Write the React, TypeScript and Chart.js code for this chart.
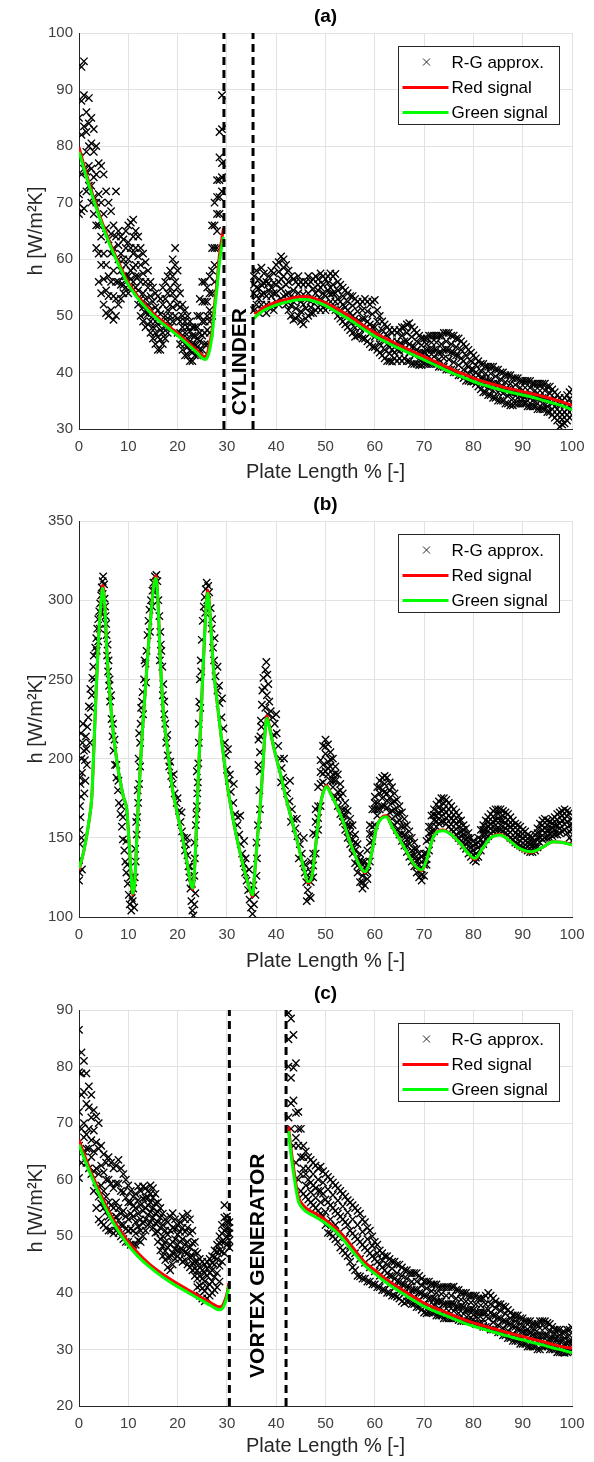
import React, { useEffect, useRef } from "react";
import { Chart, registerables } from "chart.js";

Chart.register(...registerables);

const FONT = "'Liberation Sans', Arial, Helvetica, sans-serif";

const X_TICKS = [0, 10, 20, 30, 40, 50, 60, 70, 80, 90, 100];
const X_TITLE = "Plate Length % [-]";
const Y_TITLE = "h [W/m\u00B2K]";
const LEGEND_LABELS = ["R-G approx.", "Red signal", "Green signal"];

// ---------------- Panel (a) ----------------
const A_Y_TICKS = [30, 40, 50, 60, 70, 80, 90, 100];
const A_WALLS = [29.4, 35.3];
const A_NOTE = { text: "CYLINDER", x: 32.7, y: 41.9 };

const A_SC1_X = [0,0.5,1,1.5,2,2.5,3,3.5,4,4.5,5,5.5,6,6.5,7,7.5,8,8.5,9,9.5,10,10.5,11,11.5,12,12.5,13,13.5,14,14.5,15,15.5,16,16.5,17,17.5,18,18.5,19,19.5,20,20.5,21,21.5,22,22.5,23,23.5,24,24.5,25,25.5,26,26.5,27,27.5,28,28.5,29];
const A_SC1_HI = [85,94,95,86,88.5,85,83,80,77,76.5,75,72,70,68.5,66,72,65,64,63.5,65,66,66.5,67,65,64,62,61,59.5,58,56,55,54,53.5,53,55,56,57,58,60,62,58,54,52,51,50,49,48,48,50,53,56,56,55,57,66,70,74,82.5,89];
const A_SC1_MID = [71.5,82,83.5,79,80,76,74.5,70,66,64,61,59,57,61,58,56,60,58,57,59,60,58,61,59,57,56,54,53,52,51,50,49,48.5,47.5,49,50,51,52,54,56,52,49,48,47,46,45.5,45,45,46,47,49,49,50,51,58,62,68,74,77];
const A_SC1_LO = [68,68.5,69,72,73,70,68,62,56,54,52,50.5,50,51,49.3,50,52,53,54,55,54,55,56,55,52,50,49,48,48.5,47,46,45,44,44,45,46,47,48,49,50,47,45,44,43,43,42,42,43,43,44,44,45,45,47,50,56,62,68,72];
const A_SC1_FILL = [78,75,89,75.5,84,73,79,66,71.5,59,68,54.5,63.5,56,62,53,62.5,55.5,60,57,63,56.5,64,57,60.5,53,57.5,50.5,55,49,52.5,47,51,45.8,52,48,54,50,57,53,55,47,50,45,48,43.8,46.5,44,48,45.5,52.5,47,52.5,49,62,59,71,71,83];
const A_SC1_EXTRA = [69.8,88,76,82.5,76.5,80.5,71,75,61,70,56.5,65.5,53.5,64.5,53.5,64,56,61,55.5,62,57,62,58.5,62,54.5,59,51.5,56,50.3,53.5,48,51.5,46.3,50.3,47,53,49,55,51.5,59,49.5,51.5,46,49,44.5,47.3,43.5,46.5,44.5,50,46.5,52.5,47.5,54,54,66,65,78,74.5];

const A_SC2_X = [35.5,36,36.5,37,37.5,38,38.5,39,39.5,40,40.5,41,41.5,42,42.5,43,43.5,44,44.5,45,45.5,46,46.5,47,47.5,48,48.5,49,49.5,50,50.5,51,51.5,52,52.5,53,53.5,54,54.5,55,55.5,56,56.5,57,57.5,58,58.5,59,59.5,60,60.5,61,61.5,62,62.5,63,63.5,64,64.5,65,65.5,66,66.5,67,67.5,68,68.5,69,69.5,70,70.5,71,71.5,72,72.5,73,73.5,74,74.5,75,75.5,76,76.5,77,77.5,78,78.5,79,79.5,80,80.5,81,81.5,82,82.5,83,83.5,84,84.5,85,85.5,86,86.5,87,87.5,88,88.5,89,89.5,90,90.5,91,91.5,92,92.5,93,93.5,94,94.5,95,95.5,96,96.5,97,97.5,98,98.5,99,99.5,100];
const A_SC2_HI = [57,58,56.5,58.5,57.5,56,57,58,57.5,59,59.5,60.5,60,59,58,57,56.5,56,57,56,55.5,56,57,56,56.5,57,56.5,57.5,57,56.5,57,57.5,57,57.4,56,55.5,55,54.5,54,53.5,53.5,53,52.5,52,52.5,53,52.5,52,52.5,52.8,51,50,49,48.5,48,47.5,47,47.5,47,47.5,48,48,48.5,48.7,48,47.5,47,46.5,46,46,46,46.5,46.5,46.5,46.5,46.5,46.5,47,47,47,46.5,46.5,46,46,45.5,45,44.5,44,43.5,43,42.5,42,41.5,41.5,41,41,41,41,40.5,40.5,40,40,39.5,39.5,39.5,39,39,39,38.5,38.5,38.5,38.5,38.5,38,38,38,38,38,38,37.5,37.5,37,36.5,36,35.5,35,35.5,36,36.5,37];
const A_SC2_MID = [54,55,53,55.5,54,53.5,54.5,55,54,55.5,56,56.5,57,55.5,54,53.5,52.5,53,54,52.5,52,53,54,52.5,53,54,54.5,55,54,53.5,54.5,55,54,54,53,52.5,52,51.5,51,50.5,50,49.5,49,49,49.5,49.5,49,48.5,48,48,47,46.5,46,45.5,45,44.5,44,44.5,44,45,45,45.5,45.5,45,44.5,44.5,44,43.5,43.5,43.5,44,44,44,44,44,43.5,43.5,44,44,44,43.5,43.5,43,43,42.5,42,41.5,41,40.5,40.5,40,39.5,39,39,38.5,38.5,38.5,38,38,38,37.5,37.5,37,37,36.5,36.5,36.5,36.5,36,36,36,36,36,36,35.5,35.5,35.5,35.5,35.5,35,35,34.5,34,33.5,33,32.5,33,33.5,34,34.5];
const A_SC2_LO = [51,52,50.5,52,51,50.5,51.5,52,51,52.5,52,53,53.5,52,51,50,49.3,49.5,50,49,48.5,49.5,50,50.5,50.5,51,51.5,51,51.5,51,52,52.5,51.5,51,50,49.5,49,48.5,48,47.5,47,46.3,46.5,46.5,46,46,45.5,45,44.5,44.5,44,43.5,43,42.5,42,42,41.9,42.5,42,42.5,42,42.5,42,42,41.5,41.5,41.5,41.3,41.3,41.5,41.5,41.5,41.5,41.5,41.5,41,41,41,40.5,40.5,40.5,40,40,39.5,39.5,39,38.5,38.5,38.4,38.4,38,37.5,37,36.5,36.5,36,36,35.5,35.5,35,35,35,34.5,34.5,34.2,34.2,34.5,34.5,34.5,34.5,34.5,34,34,34,34,33.5,33.5,33.5,33.5,33,33,32.5,32,31.5,30.4,30.8,31,31.5,32,32.5];
const A_SC2_FILL = [55.5,53.5,54.8,53.8,55.8,52,55.8,53.5,55.8,54,57.8,54.8,58.5,53.8,56,51.8,54.5,51.3,55.5,50.8,53.8,51.3,55.5,51.5,54.8,52.5,55.5,53,55.5,52.3,55.8,53.8,55.5,52.5,54.5,51,53.5,50,52.5,49,51.8,47.9,50.8,47.8,51,47.8,50.8,46.8,50.3,46.3,49,45,47.5,44,46.5,43.3,45.5,43.5,45.5,43.8,46.5,44,47,43.5,46.3,43,45.5,42.4,44.8,42.5,45,42.8,45.3,42.8,45.3,42.3,45,42.5,45.5,42.3,45,41.8,44.5,41.3,44,40.5,43,39.8,42,39.5,41.3,38.5,40.3,37.8,39.8,37.3,39.8,36.8,39.3,36.5,38.8,36.3,38.3,35.8,38,35.4,37.8,35.5,37.3,35.3,37.3,35,37.3,35,36.8,34.5,36.8,34.5,36.8,34,36.3,33.5,35.3,32.5,34.3,31.7,34.3,32.5,35.3,33.5];

const A_LINE1_X = [0,1,2,3,4,5,6,7,8,9,10,12,14,16,18,20,22,24,25,25.5,26,26.5,27,27.5,28,28.5,29,29.3];
const A_RED1 = [79.8,76.6,73.6,70.8,68.2,65.8,63.5,61.4,59.5,57.6,55.9,53.4,51.4,49.7,48.3,46.9,45.4,43.8,43.0,42.8,43.3,45.0,47.5,52.0,56.0,60.8,63.8,65.5];
const A_GREEN1 = [79.0,76.0,73.1,70.4,67.8,65.4,63.1,61.0,59.1,57.2,55.5,53.0,51.0,49.3,47.9,46.5,45.0,43.4,42.5,42.3,42.6,44.0,46.5,51.0,55.0,59.5,62.5,64.0];
const A_LINE2_X = [35.5,36,37,38,40,42,44,46,48,50,52,54,56,58,60,62,64,66,68,70,72,74,76,78,80,82,84,86,88,90,92,94,96,98,100];
const A_RED2 = [50.6,50.5,51.2,51.7,52.4,52.9,53.3,53.4,53.0,52.3,51.4,50.4,49.3,48.1,47.0,46.1,45.2,44.4,43.6,42.8,42.0,41.2,40.4,39.7,39.0,38.4,37.9,37.4,37.0,36.6,36.2,35.8,35.3,34.8,34.2];
const A_GREEN2 = [49.5,50.0,50.7,51.2,51.9,52.4,52.8,52.9,52.5,51.8,50.8,49.8,48.7,47.5,46.4,45.5,44.6,43.8,43.0,42.2,41.4,40.6,39.8,39.1,38.4,37.8,37.3,36.8,36.4,36.0,35.6,35.1,34.6,34.1,33.4];

// ---------------- Panel (b) ----------------
const B_Y_TICKS = [100, 150, 200, 250, 300, 350];

const B_SC_W1 = [[0,123],[0.1,128],[0,136],[0.2,146],[0.1,155],[0.3,163],[0.2,170],[0.4,176],[0.3,184],[0.6,191],[0.5,200],[0.7,210],[0.4,216],[0.8,222],[1.1,178],[1.3,186],[1.2,199],[1.5,206],[1.4,214],[1.7,220],[1.9,226],[2.2,210],[2.4,232],[2.6,240],[2.7,251],[2.9,258],[3.0,265],[3.3,270],[3.5,276],[3.7,282],[3.9,288],[4.1,293],[4.3,298],[4.5,303],[4.6,308],[4.8,312],[4.9,315],[5.1,310],[4.8,304],[5.2,301],[4.4,292],[3.6,268],[2.3,244],[1.0,205],[0.5,150],[0.2,188],[5.4,290],[5.6,278],[5.7,265],[5.9,255],[6.1,246],[6.3,236],[6.6,225],[6.8,214],[7.0,205],[7.3,196],[7.6,188],[7.9,180],[8.1,172],[8.4,165],[8.7,157],[8.9,149],[9.2,142],[9.4,135],[9.6,128],[9.9,121],[10.1,114],[10.3,108],[10.6,104],[10.9,110],[11.2,106],[11.0,118],[10.4,125],[9.8,133],[8.6,170],[7.6,196],[6.9,222],[6.2,250],[5.8,272],[5.5,285],[5.3,296]];
const B_SC_W2 = [[11.3,125],[11.5,135],[11.4,143],[11.7,152],[11.8,163],[12.0,172],[12.2,184],[12.4,195],[12.4,210],[12.5,222],[12.6,232],[12.9,242],[13.2,250],[13.5,260],[13.7,268],[13.9,278],[14.1,287],[14.3,294],[14.6,300],[14.9,306],[15.1,311],[15.4,315],[15.7,316],[15.9,312],[15.3,306],[14.8,296],[13.3,262],[12.8,236],[12.1,200],[11.6,160],[16.1,300],[16.3,290],[16.5,280],[16.7,268],[16.9,258],[17.1,247],[17.3,236],[17.5,222],[17.7,210],[18.0,202],[18.3,195],[18.7,189],[19.0,184],[19.4,178],[19.8,172],[20.3,167],[20.6,160],[20.9,154],[21.3,150],[21.7,146],[22.0,139],[22.2,132],[22.4,125],[22.6,118],[22.8,110],[23.0,104],[23.2,101],[23.4,108],[23.6,115],[22.9,121],[21.5,142],[20.0,175],[18.5,198],[17.3,228],[16.6,272]];
const B_SC_W3 = [[23.4,126],[23.5,137],[23.4,147],[23.7,158],[23.9,170],[24.1,185],[24.2,197],[24.3,210],[24.3,222],[24.4,236],[24.5,250],[24.7,262],[24.9,275],[25.1,287],[25.3,296],[25.5,302],[25.7,307],[25.9,311],[26.2,309],[26.4,305],[26.0,300],[25.6,292],[24.8,255],[24.0,178],[26.7,295],[26.9,282],[27.2,270],[27.4,262],[27.7,252],[28.1,243],[28.5,235],[28.9,226],[29.3,219],[29.6,210],[29.8,202],[30.0,193],[30.4,186],[30.8,179],[31.3,172],[31.7,165],[32.1,158],[32.5,152],[32.8,146],[33.1,140],[33.4,134],[33.7,128],[34.0,123],[34.3,117],[34.6,111],[34.9,106],[35.2,102],[35.5,108],[35.8,114],[35.4,120],[34.8,118],[33.8,137],[32.2,163],[30.6,190],[28.4,246],[27.0,288]];
const B_SC_W4 = [[36.0,126],[36.1,137],[36.0,147],[36.3,158],[36.7,168],[36.6,180],[36.7,192],[36.7,204],[36.8,214],[36.9,224],[37.1,234],[37.2,243],[37.4,251],[37.6,245],[37.8,256],[38.0,261],[38.2,253],[38.4,247],[38.1,240],[38.6,236],[37.8,232],[38.3,228],[38.9,230],[39.3,226],[39.7,222],[40.1,216],[40.4,208],[40.8,200],[41.1,194],[41.4,188],[41.8,183],[42.2,178],[42.7,173],[43.2,168],[43.5,162],[43.9,156],[44.3,151],[44.8,146],[45.2,140],[45.5,134],[45.8,128],[46.1,122],[46.4,117],[46.7,113],[46.2,110],[45.9,133],[44.6,137],[43.0,160],[41.0,185],[39.5,215]];
const B_SC_EXTRA = [[0.6,130],[1.6,196],[2.0,233],[3.1,250],[3.9,274],[4.2,282],[6.0,262],[6.5,240],[7.2,212],[8.0,186],[8.9,163],[9.6,148],[10.7,112],[11.9,180],[12.2,216],[13.0,228],[13.6,248],[14.4,280],[16.4,262],[17.0,240],[17.9,215],[19.2,190],[20.8,166],[21.9,150],[22.5,132],[23.8,165],[23.9,192],[24.6,232],[27.5,276],[28.1,258],[29.0,238],[30.2,206],[31.4,184],[32.7,164],[33.5,148],[34.5,130],[36.4,196],[36.4,212],[37.0,220],[40.0,228],[41.6,200],[42.8,186],[44.2,162],[45.6,150],[46.8,125]];

const B_SC2_X = [47,47.5,48,48.5,49,49.5,50,50.5,51,51.5,52,52.5,53,53.5,54,54.5,55,55.5,56,56.5,57,57.5,58,58.5,59,59.5,60,60.5,61,61.5,62,62.5,63,63.5,64,64.5,65,65.5,66,66.5,67,67.5,68,68.5,69,69.5,70,70.5,71,71.5,72,72.5,73,73.5,74,74.5,75,75.5,76,76.5,77,77.5,78,78.5,79,79.5,80,80.5,81,81.5,82,82.5,83,83.5,84,84.5,85,85.5,86,86.5,87,87.5,88,88.5,89,89.5,90,90.5,91,91.5,92,92.5,93,93.5,94,94.5,95,95.5,96,96.5,97,97.5,98,98.5,99,99.5,100];
const B_SC2_HI = [135,153,168,182,199,208,212,209,204,200,195,190,184,178,172,167,162,158,152,146,140,135,135,142,158,168,176,182,186,188,189,188,185,182,178,174,170,166,162,158,154,150,147,143,140,138,140,148,157,164,168,171,173,175,175,174,172,170,168,166,164,161,158,156,153,150,148,146,150,155,158,161,163,165,167,168,168,168,167,166,165,163,161,159,158,157,155,154,152,151,150,152,156,159,161,162,161,160,162,163,165,166,167,168,167,166,162];
const B_SC2_MID = [122,140,152,170,184,196,203,198,195,190,186,179,176,168,164,158,153,149,142,137,131,126,128,133,147,157,168,172,178,180,179,178,175,172,168,165,161,157,152,149,146,142,139,136,133,130,133,140,149,157,161,164,166,167,168,166,164,162,161,159,157,154,152,149,147,144,142,140,144,149,152,155,157,159,160,161,162,161,161,159,158,157,155,153,152,151,150,148,147,146,145,147,150,153,155,156,155,155,156,158,158,159,161,162,160,158,155];
const B_SC2_LO = [112,125,140,155,170,185,192,190,186,182,176,170,165,160,155,150,146,140,134,128,122,118,120,124,135,148,158,164,168,170,170,169,166,162,158,155,152,148,145,141,138,135,132,128,125,123,126,133,142,150,154,157,159,160,160,159,157,155,154,152,150,148,145,143,140,138,136,135,138,142,146,149,151,153,154,155,155,155,154,153,152,150,149,147,146,145,144,143,142,141,141,142,144,147,149,150,150,150,151,152,152,153,154,155,153,150,148];
const B_SC2_FILL = [128.5,132.5,160,162.5,191.5,190.5,207.5,194,199.5,186,190.5,174.5,180,164,168,154,157.5,144.5,147,132.5,135.5,122,131.5,128.5,152.5,152.5,172,168,182,175,184,173.5,180,167,173,160,165.5,152.5,157,145,150,138.5,143,132,136.5,126.5,136.5,136.5,153,153.5,164.5,160.5,169.5,163.5,171.5,162.5,168,158.5,164.5,155.5,160.5,151,155,146,150,141,145,137.5,147,145.5,155,152,160,156,163.5,158,165,158,164,156,161.5,153.5,158,150,155,148,152.5,145.5,149.5,143.5,147.5,144.5,153,150,158,153,158,152.5,159,155,161.5,156,164,158.5,163.5,154,158.5];

const B_LINE_X = [0,1,2,2.6,3,3.5,4,4.5,4.8,5.2,5.7,6.3,7,8,9,9.7,10.2,10.6,10.9,11.3,12,12.7,13.4,14,14.7,15.2,15.6,16,16.5,17.1,18,19,19.8,21,22,22.6,23.1,23.6,24.1,24.5,25,25.6,26.1,26.6,27.2,27.9,29,30,31.3,32.5,33.5,34.5,35.2,35.7,36.2,36.7,37.2,37.7,38.1,38.6,39.5,40.8,42,43.5,44.5,45.5,46.5,47.2,48,48.9,49.5,50.2,51,52,53.6,55,56,57,58,59,60.4,61.3,62.3,63.5,65.1,66.5,67.8,69.5,70.5,71.9,73.9,75.5,77.3,79,80.3,82,83.4,85.4,87,88.8,90.5,91.8,94,96.2,98,100];
const B_GREEN = [130.7,142,160,176,205,245,278,300,307.5,298,265,239,215,192,176,167.5,145,125,115,122,170,210,241,268,295,310,313.8,300,262,230,205,180,167.5,150,133,122,118.3,140,180,210,245,285,304.5,290,260,239,210,185,161,143,130,119,114,130,150,167.5,190,215,225.4,220,207,191,175,157,145,132,122.3,125,145,169.6,178,182.2,178,172,160,147,139,132,128.6,135,157,162,163.3,157,148.6,141,133.9,129.7,136,150.7,154.5,152,146.5,140,137,144,149.7,151.8,149,144.4,141.8,141.2,144,147.5,147,145.5];
const B_RED = [129.5,142,160,176,205,245,278,300.5,309.5,298.5,265,239,215,192,176,167.5,145,125,114,122,170,210,241,268,295.5,311,315.5,300.5,262,230,205,180,167.5,150,133,122,117.5,140,180,210,245,285.5,306.5,290.5,260,239,210,185,161,143,130,119,113,130,150,167.5,190,215,227,220.5,207,191,175,157,145,132,121.5,125,145,169.6,178.5,183,178.5,172,160,147,139,132,128,135,157,162.5,164,157,148.6,141,133.9,129.2,136,150.7,155,152,146.5,140,136.5,144,149.7,152.3,149,144.4,141.5,140.8,144,147.5,147.2,145.7];

// ---------------- Panel (c) ----------------
const C_Y_TICKS = [20, 30, 40, 50, 60, 70, 80, 90];
const C_WALLS = [30.5, 42.0];
const C_NOTE = { text: "VORTEX GENERATOR", x: 36.4, y: 44.8 };

const C_SC1_X = [0,0.5,1,1.5,2,2.5,3,3.5,4,4.5,5,5.5,6,6.5,7,7.5,8,8.5,9,9.5,10,10.5,11,11.5,12,12.5,13,13.5,14,14.5,15,15.5,16,16.5,17,17.5,18,18.5,19,19.5,20,20.5,21,21.5,22,22.5,23,23.5,24,24.5,25,25.5,26,26.5,27,27.5,28,28.5,29,29.5,30,30.5];
const C_SC1_HI = [86.5,82.5,81,78.8,76.5,75,72.3,71.2,70,66,64.5,63,64,63,62,62.5,63.5,62,61,60,59,58,57,57.5,58.8,58,58.8,58.5,58,59,58.5,57.5,56,55,54,53,52.5,53.5,54.1,53,52,52.5,53.5,53,54,53,51,49,47,46,45.5,45,45.5,46,46.5,47.5,48.5,50,52,55.5,53.5,52.5];
const C_SC1_MID = [72,75,70,68,69,67,65,62,61,59,58,57,56,55.5,55,56,55,54,54.5,53.5,53,54,53.5,52.5,54,53,54.5,55,55.5,56,55,54,52.5,51.5,50,49,48,48.5,49,49.5,48.5,49,49.5,48.5,49,48,46.5,45.5,44,43,42.5,42,43,43.5,44,45,46,47.5,49,51,51.5,50.5];
const C_SC1_LO = [60.3,63,65,63,62,61,58,55,53,52.5,52,51.5,51,51,50.5,51,50.6,50,49.5,49,49,48.5,48.5,48.5,49.3,49,50,51,52,52.5,51.5,50.6,49,47.5,46.5,45.8,44.5,44,45,46,46.5,46,45.5,45.8,45,44.5,44,43,41,39.5,39,38.5,39,39.5,40,40.5,41,42,45.5,47,48.5,48];
const C_SC1_FILL = [79,69,75.5,65.5,72.8,64,68.7,58.5,65.5,55.8,61.3,54.3,60,53.3,58.5,53.5,59.3,52,57.8,51.3,56,51.3,55.3,50.5,56.4,51,56.7,53,56.8,54.3,56.8,52.3,54.3,49.5,52,47.4,50.3,46.3,51.5,47.8,50.3,47.5,51.5,47.2,51.5,46.3,48.8,44.3,45.5,41.3,44,40.3,44.3,41.5,45.3,42.8,47.3,44.8,50.5,49,52.5,49.3];
const C_SC1_EXTRA = [66,78.8,67.5,73.4,65.5,71,61.5,66.6,57,62.5,55,60,53.5,59.3,52.8,59.3,52.8,58,52,56.8,51,56,51,55,51.7,55.5,52.3,56.8,53.8,57.5,53.3,55.8,50.8,53.3,48.3,51,46.3,51,47,51.3,47.5,50.8,47.5,50.8,47,50.5,45.3,47.3,42.5,44.5,40.8,43.5,41,44.8,42,46.3,43.5,48.8,47.3,53.3,50,51.5];

const C_SC2_X = [42.5,43,43.5,44,44.5,45,45.5,46,46.5,47,47.5,48,48.5,49,49.5,50,50.5,51,51.5,52,52.5,53,53.5,54,54.5,55,55.5,56,56.5,57,57.5,58,58.5,59,59.5,60,60.5,61,61.5,62,62.5,63,63.5,64,64.5,65,65.5,66,66.5,67,67.5,68,68.5,69,69.5,70,70.5,71,71.5,72,72.5,73,73.5,74,74.5,75,75.5,76,76.5,77,77.5,78,78.5,79,79.5,80,80.5,81,81.5,82,82.5,83,83.5,84,84.5,85,85.5,86,86.5,87,87.5,88,88.5,89,89.5,90,90.5,91,91.5,92,92.5,93,93.5,94,94.5,95,95.5,96,96.5,97,97.5,98,98.5,99,99.5,100];
const C_SC2_HI = [89.5,88.5,85.6,80.6,72,69,66,65,64,63.5,63,62.5,62,62.3,61.5,61,60.5,60,59.5,59,58.5,58,57.5,57,56.4,56,55.5,55,54.5,54,53,52.5,51.5,51,50,49,48.5,47.5,47,46.5,46.5,46,45.5,45.5,45,45,44.5,44,44,43.5,43.5,43.5,43.5,43,42.5,42,42,42,41.5,41.5,41.5,41,41,41,41,41,41,41.1,40.5,40.5,40,40,40,39.5,39.5,39.5,39.5,39,39,39,39.5,40,39.5,39,38.5,38,38,37.6,37.5,37,36.5,36,36,36,35.5,35.5,35,35,35,34.5,34.5,34.5,35,35,35,34.7,34.5,34,33.5,33.5,33.5,33,33,33.5,33.5,33.9];
const C_SC2_MID = [80,78,74,71.8,66,64,62,61,60,59.5,59,58.5,58,58,57.5,56.5,56,55.5,55,54.5,54,53.5,53,52.5,52,51,50.5,50,49.5,49,48.5,48,47.5,47,46.5,46,45.5,45,44.5,44,43.5,43,43,42.5,42,42,41.5,41.5,41,41,40.5,40.5,40.5,40,40,39.5,39.5,39,39,39,38.5,38.5,38.5,38,38,38,38,38,37.5,37.5,37.5,37.5,37,37,37,37,36.5,36.5,36.5,36.5,36.5,37,36.5,36,36,35.5,35.5,35,35,34.5,34.5,34,34,33.5,33.5,33,33,33,33,32.5,32.5,32.5,32.5,32.5,32.5,32.5,32,32,32,31.5,31.5,31.5,31,31,31.5,31.5];
const C_SC2_LO = [71,69,66,63,60,58,57.5,57,56.5,56,55.5,55,54.5,54,53.5,52,50.6,50.5,50,49.5,49,48,47.5,47,46.5,45.5,44.5,44,43,42.9,42.5,42.5,42,42,41.5,41.5,41,41,40.5,40.5,40,40,39.5,39.5,39.3,39,38.5,38.2,38.5,38.5,38,38,37.5,37.5,37,36.5,36.4,36.5,36.5,36.5,36,36,36,35.5,35.5,35.5,35.5,35.5,35.5,35.2,35,35,35,35,35,35.2,34.5,34.5,34.5,34,34,34,33.5,33.5,33.5,33,33,32.5,32.5,32,32,31.5,31.5,31.5,31,31,31,30.5,30.5,30.5,30.5,30,30,30.5,30.5,30.5,30,30,30,29.5,29.5,29.5,29.4,29.5,29.5,30];
const C_SC2_FILL = [84.8,73.5,79.8,67.4,69,61,64,59,62,57.8,61,56.8,60,56,59.5,54.3,58.3,53,57.3,52,56.3,50.8,55.3,49.8,54.2,48.3,53,47,52,46,50.8,45.3,49.5,44.5,48.3,43.8,47,43,45.8,42.3,45,41.5,44.3,41,43.5,40.5,43,39.9,42.5,39.8,42,39.3,42,38.8,41.3,38,40.8,37.8,40.3,37.8,40,37.3,39.8,36.8,39.5,36.8,39.5,36.8,39,36.4,38.8,36.3,38.5,36,38.3,36.1,38,35.5,37.8,35.3,38,35.5,38,34.8,37.3,34.3,36.8,33.8,36.3,33.3,35.5,32.8,35,32.5,34.5,32,34,31.8,34,31.5,33.5,31.3,33.8,31.5,33.8,31.5,33.3,31,32.8,30.5,32.5,30.5,32,30.3,32.5,30.8];

const C_LINE1_X = [0,1,2,3,4,5,6,7,8,9,10,12,14,16,18,20,22,24,26,27,28,28.6,29.2,29.7,30.1,30.4];
const C_RED1 = [67,64.6,62.3,60.2,58.2,56.3,54.5,52.9,51.5,50.2,49.0,47.0,45.3,43.9,42.7,41.6,40.6,39.6,38.6,38.1,37.6,37.5,37.9,38.9,40.2,41.7];
const C_GREEN1 = [66.2,63.9,61.7,59.6,57.6,55.7,53.9,52.3,50.9,49.6,48.4,46.4,44.8,43.4,42.2,41.1,40.1,39.1,38.1,37.6,37.1,37.0,37.4,38.4,39.7,41.2];
const C_LINE2_X = [42.5,43,43.5,44,44.5,45,46,48,50,52,54,56,58,60,62,64,66,68,70,72,74,76,78,80,82,84,86,88,90,92,94,96,98,100];
const C_RED2 = [69.4,65.5,62.3,59.3,57.0,56.0,55.0,54.0,52.9,51.5,49.7,47.5,45.4,44.0,42.6,41.4,40.3,39.2,38.2,37.4,36.7,36.0,35.3,34.7,34.2,33.7,33.2,32.7,32.3,31.8,31.4,30.9,30.5,30.2];
const C_GREEN2 = [68.6,64.5,61.3,58.4,56.2,55.3,54.4,53.4,52.3,50.9,49.0,46.8,44.8,43.4,42.0,40.8,39.7,38.6,37.6,36.8,36.1,35.4,34.7,34.1,33.6,33.1,32.6,32.1,31.7,31.2,30.8,30.3,29.9,29.4];

// ---------------- helpers ----------------
type Pt = { x: number; y: number };
const zip = (xs: number[], ys: number[]): Pt[] => {
  const n = Math.min(xs.length, ys.length);
  const out: Pt[] = [];
  for (let i = 0; i < n; i++) out.push({ x: xs[i], y: ys[i] });
  return out;
};
const pairs = (arr: number[][]): Pt[] => arr.map((p) => ({ x: p[0], y: p[1] }));

type Panel = {
  key: string;
  title: string;
  height: number;
  yMin: number;
  yMax: number;
  yTicks: number[];
  scatter: Pt[];
  red: Pt[][];
  green: Pt[][];
  walls: number[];
  note?: { text: string; x: number; y: number };
};

const PANELS: Panel[] = [
  {
    key: "a", title: "(a)", height: 488, yMin: 30, yMax: 100, yTicks: A_Y_TICKS,
    scatter: [
      ...zip(A_SC1_X, A_SC1_HI), ...zip(A_SC1_X, A_SC1_MID), ...zip(A_SC1_X, A_SC1_LO),
      ...zip(A_SC1_X, A_SC1_FILL), ...zip(A_SC1_X, A_SC1_EXTRA),
      ...zip(A_SC2_X, A_SC2_HI), ...zip(A_SC2_X, A_SC2_MID), ...zip(A_SC2_X, A_SC2_LO), ...zip(A_SC2_X, A_SC2_FILL),
    ],
    red: [zip(A_LINE1_X, A_RED1), zip(A_LINE2_X, A_RED2)],
    green: [zip(A_LINE1_X, A_GREEN1), zip(A_LINE2_X, A_GREEN2)],
    walls: A_WALLS, note: A_NOTE,
  },
  {
    key: "b", title: "(b)", height: 489, yMin: 100, yMax: 350, yTicks: B_Y_TICKS,
    scatter: [
      ...pairs(B_SC_W1), ...pairs(B_SC_W2), ...pairs(B_SC_W3), ...pairs(B_SC_W4), ...pairs(B_SC_EXTRA),
      ...zip(B_SC2_X, B_SC2_HI), ...zip(B_SC2_X, B_SC2_MID), ...zip(B_SC2_X, B_SC2_LO), ...zip(B_SC2_X, B_SC2_FILL),
    ],
    red: [zip(B_LINE_X, B_RED)],
    green: [zip(B_LINE_X, B_GREEN)],
    walls: [],
  },
  {
    key: "c", title: "(c)", height: 485, yMin: 20, yMax: 90, yTicks: C_Y_TICKS,
    scatter: [
      ...zip(C_SC1_X, C_SC1_HI), ...zip(C_SC1_X, C_SC1_MID), ...zip(C_SC1_X, C_SC1_LO),
      ...zip(C_SC1_X, C_SC1_FILL), ...zip(C_SC1_X, C_SC1_EXTRA),
      ...zip(C_SC2_X, C_SC2_HI), ...zip(C_SC2_X, C_SC2_MID), ...zip(C_SC2_X, C_SC2_LO), ...zip(C_SC2_X, C_SC2_FILL),
    ],
    red: [zip(C_LINE1_X, C_RED1), zip(C_LINE2_X, C_RED2)],
    green: [zip(C_LINE1_X, C_GREEN1), zip(C_LINE2_X, C_GREEN2)],
    walls: C_WALLS, note: C_NOTE,
  },
];

const PLOT_TOP = 33;
const PLOT_H = 396;
const Y_AXIS_W = 79;
const RIGHT_PAD = 22;

function makeDecor(p: Panel) {
  return {
    id: "decor_" + p.key,
    afterDatasetsDraw(chart: any) {
      if (!p.note) return;
      const { ctx, scales } = chart;
      const x = scales.x.getPixelForValue(p.note.x);
      const y = scales.y.getPixelForValue(p.note.y);
      ctx.save();
      ctx.translate(x, y);
      ctx.rotate(-Math.PI / 2);
      ctx.font = `bold 21px ${FONT}`;
      ctx.fillStyle = "#000";
      ctx.textAlign = "center";
      ctx.textBaseline = "middle";
      ctx.fillText(p.note.text, 0, 0);
      ctx.restore();
    },
    afterDraw(chart: any) {
      const { ctx, chartArea: ca } = chart;
      ctx.save();
      ctx.font = `bold 19px ${FONT}`;
      ctx.fillStyle = "#000";
      ctx.textAlign = "center";
      ctx.textBaseline = "middle";
      ctx.fillText(p.title, (ca.left + ca.right) / 2, ca.top - 16);

      const L = Math.round(ca.right - 174) + 0.5;
      const T = Math.round(ca.top + 13) + 0.5;
      const W = 161;
      const H = 78;
      ctx.fillStyle = "#fff";
      ctx.fillRect(L, T, W, H);
      ctx.strokeStyle = "#262626";
      ctx.lineWidth = 1;
      ctx.strokeRect(L, T, W, H);
      const rows = [T + 15.5, T + 41, T + 66];
      const mx = L + 28;
      const my = rows[0];
      ctx.beginPath();
      ctx.moveTo(mx - 3.5, my - 3.5);
      ctx.lineTo(mx + 3.5, my + 3.5);
      ctx.moveTo(mx + 3.5, my - 3.5);
      ctx.lineTo(mx - 3.5, my + 3.5);
      ctx.stroke();
      ctx.lineWidth = 3;
      ctx.strokeStyle = "#ff0000";
      ctx.beginPath();
      ctx.moveTo(L + 4, rows[1]);
      ctx.lineTo(L + 50, rows[1]);
      ctx.stroke();
      ctx.strokeStyle = "#00ff00";
      ctx.beginPath();
      ctx.moveTo(L + 4, rows[2]);
      ctx.lineTo(L + 50, rows[2]);
      ctx.stroke();
      ctx.font = `17px ${FONT}`;
      ctx.fillStyle = "#000";
      ctx.textAlign = "left";
      ctx.textBaseline = "middle";
      LEGEND_LABELS.forEach((t, i) => ctx.fillText(t, L + 53, rows[i] + 1));
      ctx.restore();
    },
  };
}

function buildConfig(p: Panel): any {
  const datasets: any[] = [];
  datasets.push({
    label: LEGEND_LABELS[0],
    data: p.scatter,
    showLine: false,
    pointStyle: "crossRot",
    pointRadius: 5.2,
    pointBorderWidth: 1.35,
    pointBorderColor: "#000",
    pointBackgroundColor: "rgba(0,0,0,0)",
    borderColor: "#000",
    order: 5,
  });
  p.red.forEach((seg) =>
    datasets.push({
      label: LEGEND_LABELS[1], data: seg, borderColor: "#ff0000", borderWidth: 3,
      pointRadius: 0, cubicInterpolationMode: "monotone", fill: false, order: 3,
    })
  );
  p.green.forEach((seg) =>
    datasets.push({
      label: LEGEND_LABELS[2], data: seg, borderColor: "#00ff00", borderWidth: 3,
      pointRadius: 0, cubicInterpolationMode: "monotone", fill: false, order: 2,
    })
  );
  p.walls.forEach((w) =>
    datasets.push({
      label: "wall", data: [{ x: w, y: p.yMin }, { x: w, y: p.yMax }],
      borderColor: "#000", borderWidth: 3, borderDash: [8, 5], pointRadius: 0, fill: false, order: 1,
    })
  );
  const xAxisH = p.height - PLOT_TOP - PLOT_H;
  return {
    type: "line",
    data: { datasets },
    options: {
      responsive: false,
      animation: false,
      events: [],
      layout: { padding: { top: PLOT_TOP, right: RIGHT_PAD, left: 0, bottom: 0 } },
      plugins: { legend: { display: false }, tooltip: { enabled: false }, title: { display: false } },
      scales: {
        x: {
          type: "linear", min: 0, max: 100,
          afterBuildTicks: (s: any) => { s.ticks = X_TICKS.map((v) => ({ value: v })); },
          afterFit: (s: any) => { s.height = xAxisH; },
          grid: { color: "#e2e2e2", lineWidth: 1, drawTicks: false },
          border: { color: "#262626", width: 1 },
          ticks: { color: "#404040", font: { family: FONT, size: 15 }, padding: 9, maxRotation: 0, autoSkip: false },
          title: { display: true, text: X_TITLE, color: "#262626", font: { family: FONT, size: 20 }, padding: { top: 0, bottom: 4 } },
        },
        y: {
          type: "linear", min: p.yMin, max: p.yMax,
          afterBuildTicks: (s: any) => { s.ticks = p.yTicks.map((v) => ({ value: v })); },
          afterFit: (s: any) => { s.width = Y_AXIS_W; },
          grid: { color: "#e2e2e2", lineWidth: 1, drawTicks: false },
          border: { color: "#262626", width: 1 },
          ticks: { color: "#404040", font: { family: FONT, size: 15 }, padding: 6, autoSkip: false },
          title: { display: true, text: Y_TITLE, color: "#262626", font: { family: FONT, size: 20 }, padding: { top: 24, bottom: 0 } },
        },
      },
    },
    plugins: [makeDecor(p)],
  };
}

function PanelChart({ p }: { p: Panel }) {
  const ref = useRef<HTMLCanvasElement | null>(null);
  useEffect(() => {
    if (!ref.current) return;
    const chart = new Chart(ref.current, buildConfig(p));
    return () => chart.destroy();
  }, [p]);
  return (
    <canvas
      ref={ref}
      width={594}
      height={p.height}
      style={{ display: "block", width: 594, height: p.height }}
    />
  );
}

export default function App() {
  return (
    <div
      style={{
        position: "absolute", left: 0, top: 0, width: 594, height: 1462,
        overflow: "hidden", background: "#fff",
      }}
    >
      {PANELS.map((p) => (
        <PanelChart key={p.key} p={p} />
      ))}
    </div>
  );
}
